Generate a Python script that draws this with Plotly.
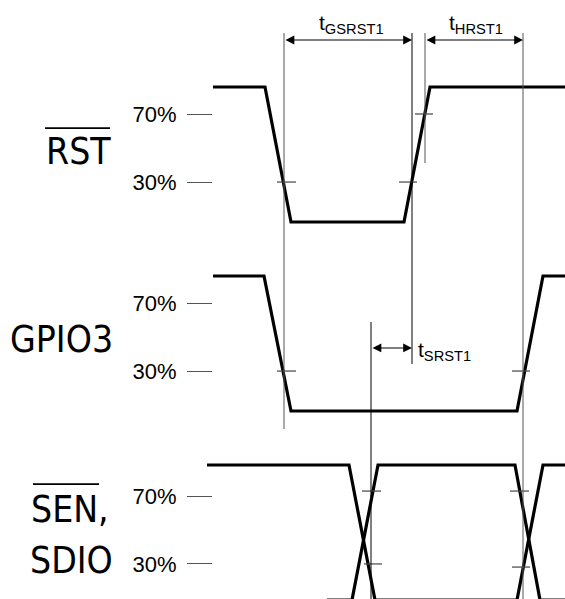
import plotly.graph_objects as go

# ---------------- data (time in arbitrary units, levels 0=low 1=high) ----------------
LANE_PITCH = 1.4                      # vertical spacing between signal lanes (level units)
lane_names = ["RST", "GPIO3", "SEN_SDIO"]
lane_base = [0.0, -LANE_PITCH, -2 * LANE_PITCH]

rst_t = [213, 265, 291, 404, 430, 565]
rst_v = [1, 1, 0, 0, 1, 1]

gpio3_t = [213, 264, 291, 517, 543, 565]
gpio3_v = [1, 1, 0, 0, 1, 1]

sen_a_t = [207, 349, 375, 517, 543, 565]
sen_a_v = [1, 1, 0, 0, 1, 1]
sen_b_t = [327, 352, 378, 515, 540, 565]
sen_b_v = [0, 0, 1, 1, 0, 0]

# threshold ticks per lane (fraction of swing where the 70% / 30% ticks sit)
tick_text = ["70%", "30%"]
tick_frac = {"RST": [0.80, 0.296], "GPIO3": [0.80, 0.296], "SEN_SDIO": [0.77, 0.267]}

# short crossing marks on edges: (t_start, t_end, lane index, level fraction)
cross_marks = [
    (277, 296, 0, 0.296), (399, 417, 0, 0.296), (415, 433, 0, 0.80),
    (277, 296, 1, 0.296), (512, 530, 1, 0.296),
    (362, 381, 2, 0.807), (364, 382, 2, 0.267),
    (510, 529, 2, 0.807), (512, 530, 2, 0.244),
]

# vertical timing reference lines: (t, y_top, y_bottom, colour)
ref_lines = [
    (284, 1.40, -1.533, "#555555"),
    (412, 1.40, -1.052, "#000000"),
    (425, 1.40, 0.437, "#555555"),
    (523, 1.40, -2.95, "#555555"),
    (371, -0.741, -2.95, "#000000"),
]

# timing parameters: (label, t_from, t_to, y of arrow, label x, label y, anchor)
timings = [
    ("t<sub>GSRST1</sub>", 284, 412, 1.348, 351, 1.47, "center"),
    ("t<sub>HRST1</sub>", 425, 523, 1.348, 476, 1.47, "center"),
    ("t<sub>SRST1</sub>", 371, 412, -0.933, 416, -0.955, "left"),
]

# ---------------- figure ----------------
W, H = 565, 599
PX_PER_UNIT = 135.0
Y_TOP = 87 / PX_PER_UNIT + 1.0               # level at top edge
Y_BOT = Y_TOP - H / PX_PER_UNIT              # level at bottom edge

fig = go.Figure()

def add_wave(t, v, base):
    fig.add_trace(go.Scatter(
        x=t, y=[base + lv for lv in v], mode="lines",
        line=dict(color="black", width=3.2), hoverinfo="skip", showlegend=False))

add_wave(rst_t, rst_v, lane_base[0])
add_wave(gpio3_t, gpio3_v, lane_base[1])
add_wave(sen_a_t, sen_a_v, lane_base[2])
add_wave(sen_b_t, sen_b_v, lane_base[2])

for t0, t1, li, fr in cross_marks:
    fig.add_trace(go.Scatter(
        x=[t0, t1], y=[lane_base[li] + fr] * 2, mode="lines",
        line=dict(color="#444444", width=1.2), hoverinfo="skip", showlegend=False))

for t, y0, y1, col in ref_lines:
    fig.add_trace(go.Scatter(
        x=[t, t], y=[y0, y1], mode="lines",
        line=dict(color=col, width=1), hoverinfo="skip", showlegend=False))

for label, ta, tb, ya, lx, ly, anc in timings:
    fig.add_annotation(x=tb, y=ya, ax=ta, ay=ya, xref="x", yref="y", axref="x", ayref="y",
                       text="", showarrow=True, arrowhead=2, startarrowhead=2,
                       arrowside="end+start", arrowsize=1.6, startarrowsize=1.6,
                       arrowwidth=1.1, arrowcolor="black")
    fig.add_annotation(x=lx, y=ly, xref="x", yref="y", text=label, showarrow=False,
                       xanchor=anc, yanchor="middle",
                       font=dict(family="Liberation Sans, Arial", size=21, color="black"))

tickvals, ticktexts = [], []
for name, base in zip(lane_names, lane_base):
    for fr, tx in zip(tick_frac[name], tick_text):
        tickvals.append(base + fr)
        ticktexts.append(tx)

NARROW = "Liberation Sans Narrow, Arial Narrow, DejaVu Sans Condensed, Liberation Sans"
sig_labels = [("RST", 78, 0.52, True), ("GPIO3", 61, -0.874, False),
              ("SEN,", 70, -2.13, True), ("SDIO", 71, -2.51, False)]
for txt, x, y, bar in sig_labels:
    fig.add_annotation(x=x, y=y, xref="x", yref="y", text=txt, showarrow=False,
                       xanchor="center", yanchor="middle",
                       font=dict(family=NARROW, size=37, color="black"))

# overbars for active-low signal names
fig.add_shape(type="line", x0=45, x1=110, y0=0.696, y1=0.696, xref="x", yref="y",
              line=dict(color="black", width=1.8))
fig.add_shape(type="line", x0=33, x1=99, y0=-1.941, y1=-1.941, xref="x", yref="y",
              line=dict(color="black", width=1.8))

fig.update_layout(
    width=W, height=H, margin=dict(l=0, r=0, t=0, b=0),
    paper_bgcolor="white", plot_bgcolor="white",
    xaxis=dict(range=[0, W], visible=False, domain=[0, 1]),
    yaxis=dict(range=[Y_BOT, Y_TOP], anchor="free", position=212 / W,
               showline=False, showgrid=False, zeroline=False,
               tickmode="array", tickvals=tickvals, ticktext=ticktexts,
               ticks="outside", ticklen=25, tickwidth=1, tickcolor="#555555",
               ticklabelstandoff=6,
               tickfont=dict(family="Liberation Sans, Arial", size=22, color="black")),
)

fig.write_html("out.html", config={"displayModeBar": False},
               post_script="document.body.style.margin='0';document.body.style.overflow='hidden';")
